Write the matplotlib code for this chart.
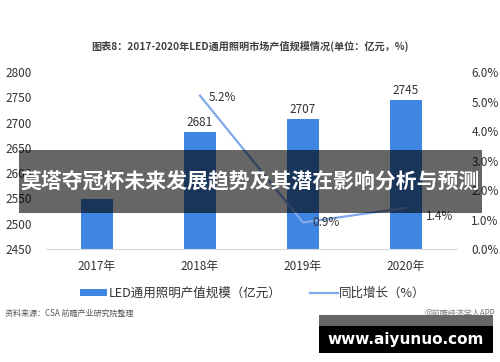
import numpy as np
import matplotlib.pyplot as plt
from matplotlib.patches import Rectangle

plt.rcParams['font.family'] = ['Noto Sans CJK SC', 'DejaVu Sans']

years = ["2017年", "2018年", "2019年", "2020年"]
scale = [2548, 2681, 2707, 2745]          # 亿元
growth = [np.nan, 5.2, 0.9, 1.4]         # %
scale_labels = ["", "2681", "2707", "2745"]   # 2017 label hidden under banner
growth_labels = ["", "5.2%", "0.9%", "1.4%"]

bar_color = "#3f86e2"
line_color = "#7fa9ea"

fig = plt.figure(figsize=(5, 3.62), dpi=100)
ax = fig.add_axes([0.091, 0.312, 0.824, 0.489])
x = np.arange(len(years))

ax.bar(x, scale, width=0.31, color=bar_color, bottom=0, zorder=2,
       label="LED通用照明产值规模（亿元）")
ax.set_ylim(2450, 2800)
ax.set_xlim(-0.5, 3.5)
ax.set_yticks(np.arange(2450, 2801, 50))
ax.set_xticks(x)
ax.set_xticklabels(years)
for i, v in enumerate(scale):
    if scale_labels[i]:
        ax.text(i, v + 6, scale_labels[i], ha="center", va="bottom",
                fontsize=8.5, color="#333333")

ax2 = ax.twinx()
ax2.plot(x, growth, color=line_color, lw=1.6, zorder=3, label="同比增长（%）")
ax2.set_ylim(0, 6)
ax2.set_yticks(np.arange(0, 6.1, 1))
ax2.set_yticklabels([f"{t:.1f}%" for t in np.arange(0, 6.1, 1)])
offs = [(0, 0), (0.22, -0.05), (0.22, 0.0), (0.33, -0.3)]
for i, g in enumerate(growth):
    if growth_labels[i]:
        ax2.text(i + offs[i][0], g + offs[i][1], growth_labels[i], ha="center",
                 va="center", fontsize=8.5, color="#333333")

for a in (ax, ax2):
    for s in a.spines.values():
        s.set_visible(False)
    a.tick_params(length=0, labelsize=8.5, colors="#333333")
ax.spines["bottom"].set_visible(True)
ax.spines["bottom"].set_color("#d9d9d9")
ax.tick_params(axis="x", pad=8, labelsize=8.5)
ax.tick_params(axis="y", pad=10)
ax2.tick_params(axis="y", pad=10)

fig.text(0.5, 0.873, "图表8：2017-2020年LED通用照明市场产值规模情况(单位：亿元，%)",
         ha="center", va="center", fontsize=7.3, fontweight="bold", color="#404040")

h1, l1 = ax.get_legend_handles_labels()
h2, l2 = ax2.get_legend_handles_labels()
fig.legend(h1 + h2, l1 + l2, loc="center", bbox_to_anchor=(0.505, 0.19), ncol=2,
           frameon=False, fontsize=9, handlelength=2.2, handleheight=0.5,
           handletextpad=0.1, columnspacing=2.3, labelcolor="#333333")

fig.text(0.01, 0.135, "资料来源：CSA 前瞻产业研究院整理", ha="left", va="center",
         fontsize=5.8, color="#555555")
fig.text(0.99, 0.135, "@前瞻经济学人APP", ha="right", va="center",
         fontsize=5.8, color="#777777")

# overlay banner
fig.patches.append(Rectangle((0.038, 0.4116), 0.926, 0.174, transform=fig.transFigure,
                             facecolor="black", alpha=0.6, zorder=10))
fig.text(0.5, 0.497, "莫塔夺冠杯未来发展趋势及其潜在影响分析与预测", ha="center",
         va="center", fontsize=15, fontweight="bold", color="white", zorder=11)

# site badge
fig.patches.append(Rectangle((0.638, 0.099), 0.348, 0.031, transform=fig.transFigure,
                             facecolor="#666666", zorder=10))
fig.patches.append(Rectangle((0.638, 0.025), 0.348, 0.075, transform=fig.transFigure,
                             facecolor="black", zorder=10))
fig.text(0.811, 0.063, "www.aiyunuo.com", ha="center", va="center", fontsize=11,
         fontweight="bold", color="white", family="DejaVu Sans", zorder=11)

fig.savefig("out.png", dpi=100)
